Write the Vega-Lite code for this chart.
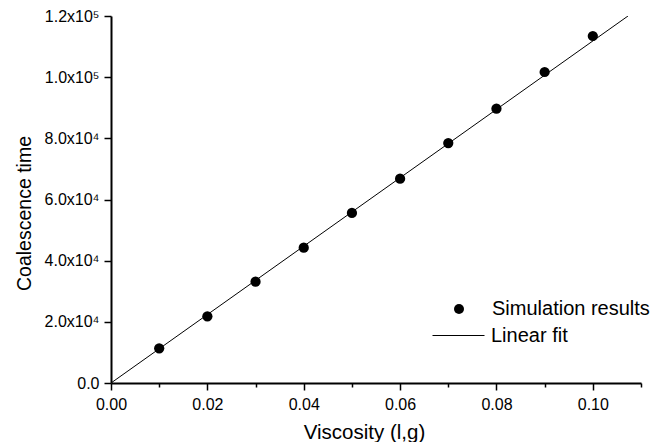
{
  "$schema": "https://vega.github.io/schema/vega-lite/v6.json",
  "width": 530,
  "height": 367,
  "autosize": {"type": "none"},
  "padding": {"left": 111, "top": 16, "right": 28, "bottom": 59},
  "background": "white",
  "config": {"view": {"stroke": null}, "font": "Liberation Sans"},
  "datasets": {
    "sim": [
      {"viscosity": 0.01, "time": 11350},
      {"viscosity": 0.02, "time": 21810},
      {"viscosity": 0.03, "time": 33120},
      {"viscosity": 0.04, "time": 44240},
      {"viscosity": 0.05, "time": 55590},
      {"viscosity": 0.06, "time": 66800},
      {"viscosity": 0.07, "time": 78470},
      {"viscosity": 0.08, "time": 89690},
      {"viscosity": 0.09, "time": 101690},
      {"viscosity": 0.10, "time": 113460}
    ],
    "fit": [
      {"viscosity": 0.0, "time": 0},
      {"viscosity": 0.1073, "time": 120000}
    ]
  },
  "layer": [
    {
      "data": {"name": "fit"},
      "mark": {"type": "line", "strokeWidth": 1, "clip": true},
      "encoding": {
        "x": {
          "field": "viscosity",
          "type": "quantitative",
          "scale": {"domain": [0, 0.11], "nice": false, "zero": true},
          "axis": {
            "title": "Viscosity (l,g)",
            "values": [0, 0.01, 0.02, 0.03, 0.04, 0.05, 0.06, 0.07, 0.08, 0.09, 0.1, 0.11],
            "labelExpr": "round(datum.value*100) % 2 == 0 ? format(datum.value, '.2f') : ''",
            "tickSize": {"condition": {"test": "round(datum.value*100) % 2 == 0", "value": 7}, "value": 4},
            "grid": false,
            "domainColor": "black",
            "domainWidth": 2,
            "tickColor": "black",
            "tickWidth": 1.5,
            "labelFont": "Liberation Sans",
            "labelFontSize": 16,
            "labelColor": "black",
            "labelPadding": 6,
            "labelOverlap": false,
            "labelFlush": false,
            "titleFont": "Liberation Sans",
            "titleFontSize": 20.5,
            "titleFontWeight": "normal",
            "titleColor": "black",
            "titleX": 253,
            "titleY": 55,
            "titleAlign": "center",
            "titleBaseline": "alphabetic"
          }
        },
        "y": {
          "field": "time",
          "type": "quantitative",
          "scale": {"domain": [0, 120000], "nice": false},
          "axis": {
            "title": "Coalescence time",
            "values": [0, 10000, 20000, 30000, 40000, 50000, 60000, 70000, 80000, 90000, 100000, 110000, 120000],
            "labelExpr": "datum.value == 0 ? '0.0' : (round(datum.value/10000) % 2 == 1 ? '' : (datum.value >= 100000 ? format(datum.value/100000, '.1f') + 'x10⁵' : format(datum.value/10000, '.1f') + 'x10⁴'))",
            "tickSize": {"condition": {"test": "round(datum.value/10000) % 2 == 0", "value": 7}, "value": 4},
            "grid": false,
            "domainColor": "black",
            "domainWidth": 2,
            "tickColor": "black",
            "tickWidth": 1.5,
            "labelFont": "Liberation Sans",
            "labelFontSize": 16,
            "labelColor": "black",
            "labelPadding": 5,
            "labelOverlap": false,
            "titleFont": "Liberation Sans",
            "titleFontSize": 19.5,
            "titleFontWeight": "normal",
            "titleColor": "black",
            "titleAngle": -90,
            "titleX": -81,
            "titleY": 197,
            "titleAlign": "center",
            "titleBaseline": "alphabetic"
          }
        },
        "color": {
          "datum": "Linear fit",
          "scale": {"range": ["black"]},
          "legend": {
            "orient": "none",
            "legendX": 321,
            "legendY": 293,
            "title": null,
            "padding": 0,
            "symbolType": "stroke",
            "symbolSize": 2704,
            "symbolStrokeWidth": 1,
            "symbolStrokeColor": "black",
            "labelFont": "Liberation Sans",
            "labelFontSize": 20,
            "labelColor": "black",
            "labelOffset": 6,
            "labelLimit": 300
          }
        }
      }
    },
    {
      "data": {"name": "sim"},
      "mark": {"type": "point", "filled": true, "color": "black", "opacity": 1, "size": 105},
      "encoding": {
        "x": {"field": "viscosity", "type": "quantitative"},
        "y": {"field": "time", "type": "quantitative"},
        "shape": {
          "datum": "Simulation results",
          "scale": {"range": ["circle"]},
          "legend": {
            "orient": "none",
            "legendX": 338,
            "legendY": 283,
            "title": null,
            "padding": 0,
            "symbolType": "circle",
            "symbolSize": 100,
            "symbolFillColor": "black",
            "symbolStrokeColor": "black",
            "symbolStrokeWidth": 0,
            "symbolOpacity": 1,
            "labelFont": "Liberation Sans",
            "labelFontSize": 20,
            "labelColor": "black",
            "labelOffset": 23,
            "labelLimit": 300
          }
        }
      }
    }
  ]
}
